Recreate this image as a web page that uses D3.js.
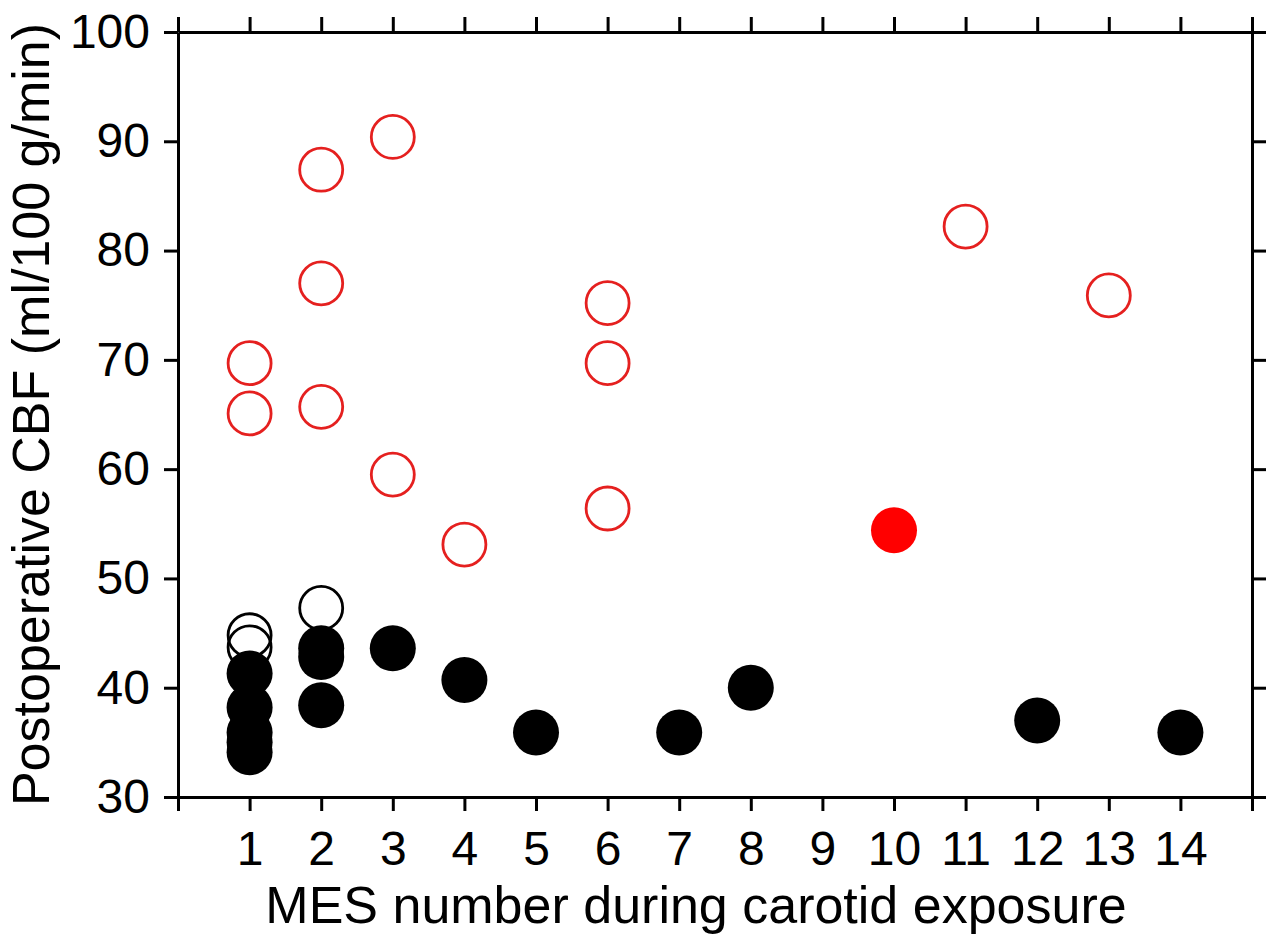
<!DOCTYPE html>
<html>
<head>
<meta charset="utf-8">
<script src="https://cdn.jsdelivr.net/npm/d3@7"></script>
<style>
  body { margin: 0; background: #fff; }
  svg { display: block; }
  .axis path, .axis line { stroke: #000; stroke-width: 3; }
  .axis text { font-family: "Liberation Sans", Arial, sans-serif; font-size: 48px; fill: #000; }
  .title { font-family: "Liberation Sans", Arial, sans-serif; font-size: 52px; fill: #000; }
</style>
</head>
<body>
<script>
// values
const redOpenX = [1, 1, 2, 2, 2, 3, 3, 4, 6, 6, 6, 11, 13];
const redOpenY = [69.7, 65.1, 87.4, 77.0, 65.7, 90.4, 59.5, 53.1, 75.2, 69.7, 56.4, 82.2, 75.9];
const redFilledX = [10];
const redFilledY = [54.4];
const blackOpenX = [1, 1, 2];
const blackOpenY = [44.8, 43.7, 47.3];
const blackFilledX = [1, 1, 1, 1, 1, 2, 2, 2, 3, 4, 5, 7, 8, 12, 14];
const blackFilledY = [41.3, 38.2, 35.9, 35.0, 34.1, 43.6, 42.8, 38.4, 43.6, 40.7, 35.9, 35.9, 40.0, 37.0, 35.9];
const xTicks = d3.range(0, 16);
const xLabels = [1, 2, 3, 4, 5, 6, 7, 8, 9, 10, 11, 12, 13, 14];
const yTicks = [30, 40, 50, 60, 70, 80, 90, 100];

const width = 1269, height = 947;
const mLeft = 178, mRight = 1252, mTop = 32, mBottom = 797;

const svg = d3.select("body").append("svg")
    .attr("width", width)
    .attr("height", height);

const x = d3.scaleLinear().domain([0, 15]).range([mLeft, mRight]);
const y = d3.scaleLinear().domain([30, 100]).range([mBottom, mTop]);

// axes on all four sides
svg.append("g").attr("class", "axis")
    .attr("transform", `translate(0,${mBottom})`)
    .call(d3.axisBottom(x).tickValues(xTicks).tickSize(14).tickPadding(20).tickSizeOuter(0)
        .tickFormat(d => xLabels.includes(d) ? d : ""));

svg.append("g").attr("class", "axis")
    .attr("transform", `translate(0,${mTop})`)
    .call(d3.axisTop(x).tickValues(xTicks).tickSize(15).tickSizeOuter(0).tickFormat(""));

svg.append("g").attr("class", "axis")
    .attr("transform", `translate(${mLeft},0)`)
    .call(d3.axisLeft(y).tickValues(yTicks).tickSize(14).tickPadding(14).tickSizeOuter(0));

svg.append("g").attr("class", "axis")
    .attr("transform", `translate(${mRight},0)`)
    .call(d3.axisRight(y).tickValues(yTicks).tickSize(14).tickSizeOuter(0).tickFormat(""));

// points
const pts = (xs, ys) => xs.map((d, i) => ({x: d, y: ys[i]}));
const marks = svg.append("g");

function draw(data, r, fill, stroke, sw) {
  marks.selectAll(null)
    .data(data)
    .join("circle")
      .attr("cx", d => x(d.x))
      .attr("cy", d => y(d.y))
      .attr("r", r)
      .attr("fill", fill)
      .attr("stroke", stroke)
      .attr("stroke-width", sw);
}

draw(pts(redOpenX, redOpenY), 21.5, "none", "#e5201f", 2.8);
draw(pts(blackOpenX, blackOpenY), 21.5, "none", "#000", 2.8);
draw(pts(blackFilledX, blackFilledY), 23, "#000", "none", 0);
draw(pts(redFilledX, redFilledY), 23, "#ff0000", "none", 0);

// titles
svg.append("text").attr("class", "title")
    .attr("x", 696).attr("y", 923)
    .attr("text-anchor", "middle")
    .text("MES number during carotid exposure");

svg.append("text").attr("class", "title")
    .attr("transform", `translate(49,${(mTop + mBottom) / 2}) rotate(-90)`)
    .attr("text-anchor", "middle")
    .text("Postoperative CBF (ml/100 g/min)");
</script>
</body>
</html>
